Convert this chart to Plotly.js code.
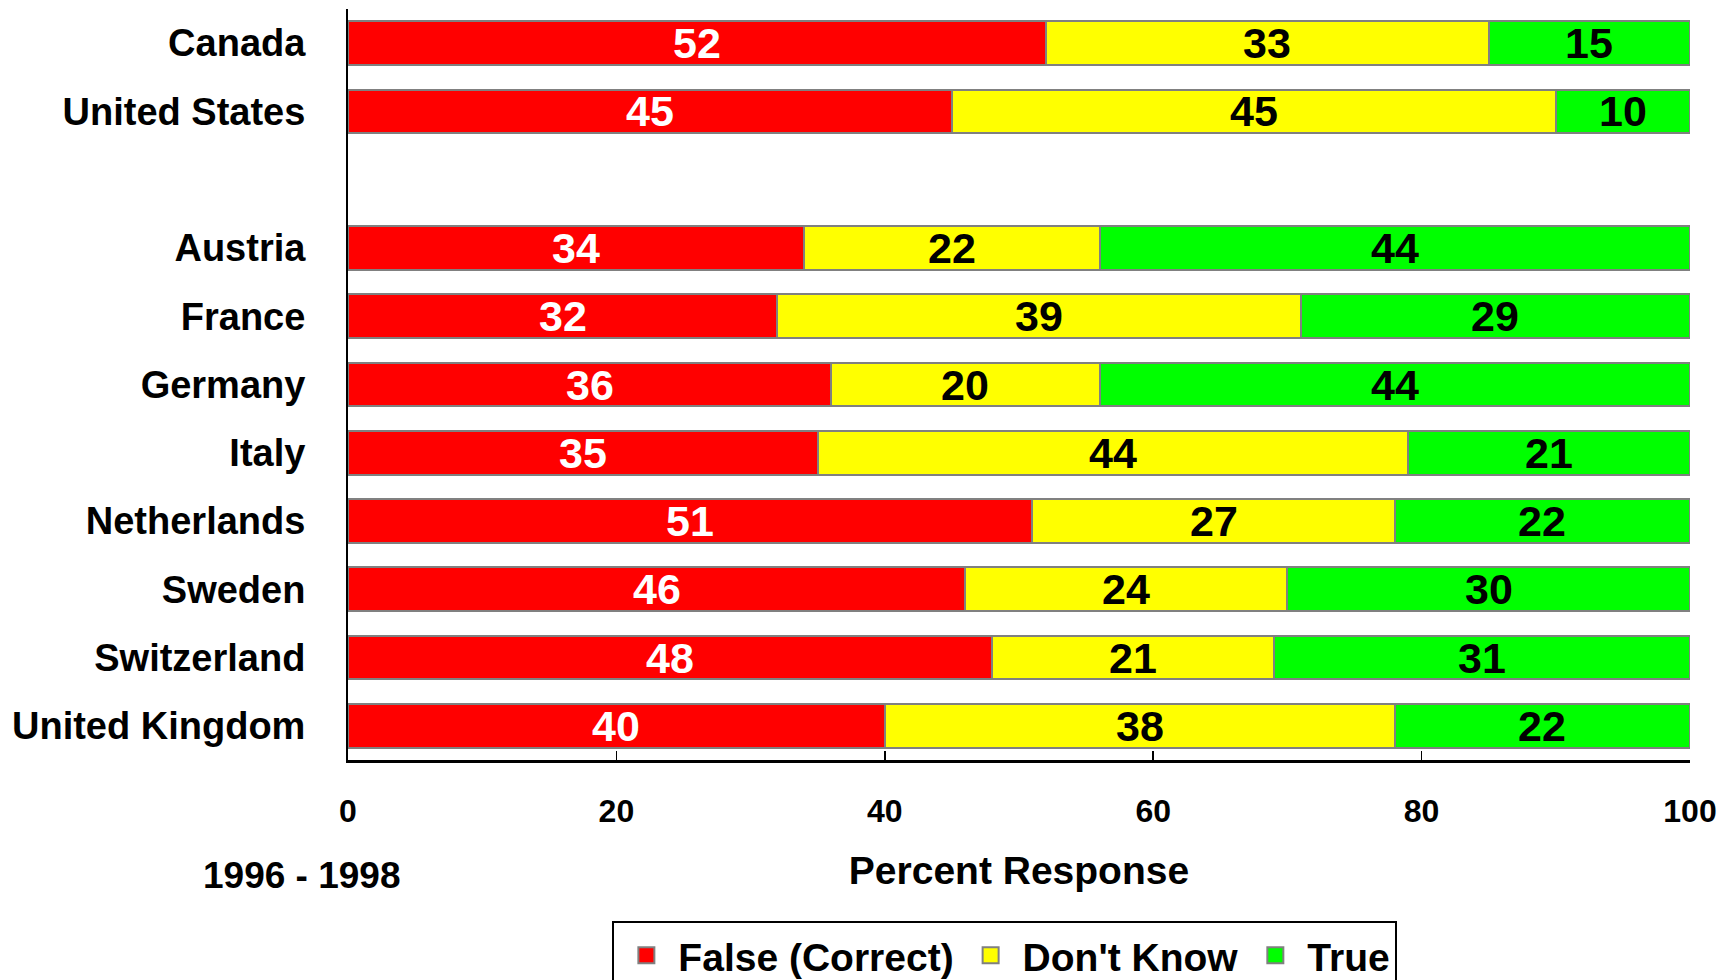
<!DOCTYPE html>
<html>
<head>
<meta charset="utf-8">
<script src="https://cdn.plot.ly/plotly-3.0.1.min.js"></script>
<style>
html,body{margin:0;padding:0;background:#fff;}
#chart{width:1721px;height:980px;}
</style>
</head>
<body>
<div id="chart"></div>
<script>
// Categories (blank entry keeps the gap between North America and Europe)
const countries = ['Canada', 'United States', ' ', 'Austria', 'France', 'Germany', 'Italy',
                   'Netherlands', 'Sweden', 'Switzerland', 'United Kingdom'];
const falseCorrect = [52, 45, null, 34, 32, 36, 35, 51, 46, 48, 40];
const dontKnow     = [33, 45, null, 22, 39, 20, 44, 27, 24, 21, 38];
const trueResp     = [15, 10, null, 44, 29, 44, 21, 22, 30, 31, 22];
const seriesNames  = ['False (Correct)', "Don't Know", 'True'];
const xTickVals    = [0, 20, 40, 60, 80, 100];
const periodLabel  = '1996 - 1998';
const xTitle       = 'Percent Response';

const FONT = 'Liberation Sans, Arial, Helvetica, sans-serif';
const colors = ['#FF0000', '#FFFF00', '#00FF00'];
const textColors = ['#FFFFFF', '#000000', '#000000'];
const values = [falseCorrect, dontKnow, trueResp];

const traces = values.map((v, i) => ({
  type: 'bar',
  orientation: 'h',
  name: seriesNames[i],
  legendgroup: 'g' + i,
  showlegend: false,
  y: countries,
  x: v,
  textposition: 'none',
  marker: {color: colors[i], line: {color: '#808080', width: 2}},
  hoverinfo: 'skip'
}));

// legend entries (larger square swatches than the bar legend icon)
values.forEach((v, i) => {
  traces.push({
    type: 'scatter',
    mode: 'markers',
    name: seriesNames[i],
    legendgroup: 'g' + i,
    showlegend: true,
    x: [null], y: [null],
    marker: {symbol: 'square', size: 16, color: colors[i], line: {color: '#808080', width: 2}},
    hoverinfo: 'skip'
  });
});

// value labels centred on each segment, positioned through the data axes
const annotations = [];
countries.forEach((c, r) => {
  let cum = 0;
  values.forEach((v, i) => {
    const val = v[r];
    if (val === null || val === undefined) return;
    annotations.push({
      xref: 'x', yref: 'y',
      x: cum + val / 2, y: c,
      text: String(val),
      showarrow: false,
      xanchor: 'center', yanchor: 'middle',
      font: {family: FONT, size: 43, color: textColors[i], weight: 'bold'}
    });
    cum += val;
  });
});
annotations.push({
  text: periodLabel,
  xref: 'paper', yref: 'paper',
  x: -0.034, y: -0.154,
  xanchor: 'center', yanchor: 'middle',
  showarrow: false,
  font: {family: FONT, size: 37, color: '#000000', weight: 'bold'}
});

const layout = {
  width: 1721,
  height: 980,
  margin: {l: 348, r: 31, t: 9, b: 220, autoexpand: false},
  paper_bgcolor: '#FFFFFF',
  plot_bgcolor: '#FFFFFF',
  barmode: 'stack',
  bargap: 0.36,
  showlegend: true,
  font: {family: FONT, size: 39, color: '#000000', weight: 'bold'},
  xaxis: {
    range: [0, 100],
    tickvals: xTickVals,
    ticks: 'inside',
    ticklen: 9,
    tickwidth: 1.5,
    tickcolor: '#000000',
    showline: true,
    linecolor: '#000000',
    linewidth: 2.5,
    showgrid: false,
    zeroline: false,
    ticklabelstandoff: 21,
    tickfont: {family: FONT, size: 32, color: '#000000', weight: 'bold'},
    title: {text: xTitle, font: {family: FONT, size: 39, color: '#000000', weight: 'bold'}, standoff: 29},
    fixedrange: true
  },
  yaxis: {
    type: 'category',
    categoryorder: 'array',
    categoryarray: countries,
    range: [10.5, -0.5],
    showline: true,
    linecolor: '#000000',
    linewidth: 2,
    ticks: '',
    showgrid: false,
    zeroline: false,
    ticklabelstandoff: 33,
    tickfont: {family: FONT, size: 38, color: '#000000', weight: 'bold'},
    fixedrange: true
  },
  legend: {
    orientation: 'h',
    x: 0.197, xanchor: 'left',
    y: -0.215, yanchor: 'top',
    bordercolor: '#000000',
    borderwidth: 2,
    bgcolor: '#FFFFFF',
    itemwidth: 54,
    font: {family: FONT, size: 39, color: '#000000', weight: 'bold'},
    traceorder: 'normal'
  },
  annotations: annotations
};

Plotly.newPlot('chart', traces, layout, {displayModeBar: false, staticPlot: true});
</script>
</body>
</html>
